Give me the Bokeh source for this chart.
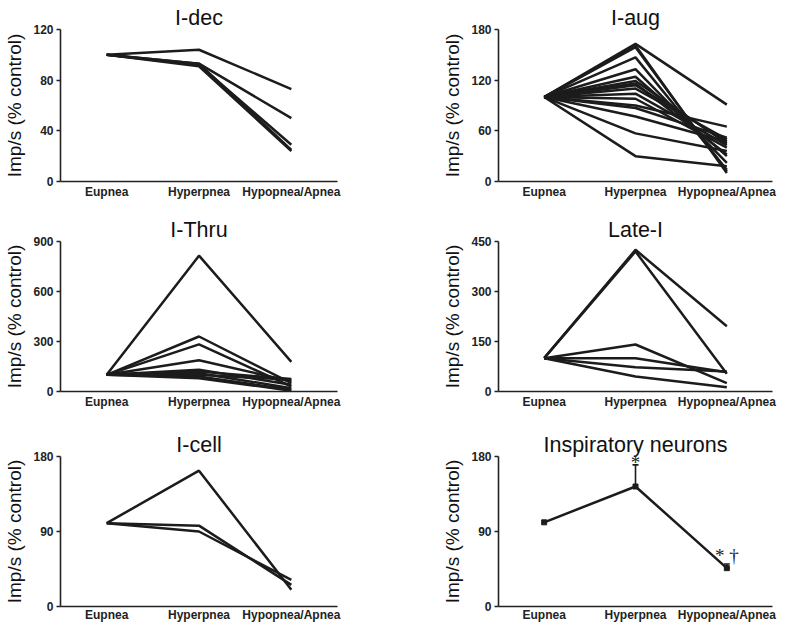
from bokeh.plotting import figure
from bokeh.layouts import column, row
from bokeh.models import Range1d, FixedTicker, ColumnDataSource, Whisker, TeeHead, LabelSet
from bokeh.embed import file_html
from bokeh.resources import INLINE

categories = ["Eupnea", "Hyperpnea", "Hypopnea/Apnea"]

# I-dec units (% control)
idec_eup = [100, 100, 100, 100, 100]
idec_hyp = [104, 93, 92, 93, 91]
idec_apn = [73, 50, 29, 25, 24]

# I-aug units
iaug_eup = [100] * 17
iaug_hyp = [163, 161, 159, 147, 133, 124, 119, 116, 114, 110, 104, 98, 90, 87, 77, 57, 30]
iaug_apn = [91, 10, 12, 14, 22, 30, 45, 32, 48, 50, 43, 40, 65, 52, 47, 36, 18]

# I-Thru units
ithru_eup = [100] * 10
ithru_hyp = [815, 330, 283, 188, 130, 120, 110, 100, 90, 80]
ithru_apn = [178, 50, 30, 60, 40, 75, 20, 70, 10, 5]

# Late-I units
latei_eup = [100] * 6
latei_hyp = [425, 420, 141, 100, 73, 45]
latei_apn = [196, 53, 25, 58, 60, 13]

# I-cell units
icell_eup = [100, 100, 100]
icell_hyp = [163, 97, 90]
icell_apn = [20, 26, 32]

# Inspiratory neurons (mean and upper error)
insp_mean = [101, 144, 46]
insp_err_cats = ["Hyperpnea", "Hypopnea/Apnea"]
insp_err_mean = [144, 46]
insp_err_upper = [170, 51]
insp_sig_text = ["*", "* \u2020"]
insp_sig_y = [165.5, 54]

FONT = "Liberation Sans"
LINE = "#1c1c1c"


def make_fig(title, ymax, ticks, w, h, bl, br, bt, bb, xstand=3):
    p = figure(x_range=categories, y_range=Range1d(0, ymax), width=w, height=h,
               output_backend="svg", toolbar_location=None, title=title,
               min_border_left=bl, min_border_right=br, min_border_top=bt, min_border_bottom=bb)
    p.x_range.range_padding = 0
    p.title.text_font = FONT
    p.title.text_font_size = "21.5px"
    p.title.text_font_style = "normal"
    p.title.text_color = "#111111"
    p.title.align = "center"
    p.title.standoff = 0
    p.title.offset = 0
    p.xgrid.visible = False
    p.ygrid.visible = False
    p.outline_line_color = None
    p.yaxis.ticker = FixedTicker(ticks=ticks)
    for ax in (p.xaxis, p.yaxis):
        ax.axis_line_width = 1.6
        ax.axis_line_color = "#222222"
        ax.major_label_text_font = FONT
        ax.major_label_text_font_size = "12px"
        ax.major_label_text_font_style = "bold"
        ax.major_label_text_color = "#222222"
        ax.minor_tick_line_color = None
        ax.major_tick_line_color = "#222222"
        ax.major_tick_line_width = 1.4
        ax.major_tick_in = 0
    p.xaxis.major_tick_out = 0
    p.xaxis.major_label_standoff = xstand
    p.xaxis.major_label_orientation = "horizontal"
    p.xaxis.axis_label = None
    p.xaxis.axis_label_standoff = 0
    p.yaxis.major_tick_out = 4
    p.yaxis.major_label_standoff = 3
    p.yaxis.axis_label = "Imp/s (% control)"
    p.yaxis.axis_label_text_font = FONT
    p.yaxis.axis_label_text_font_size = "19px"
    p.yaxis.axis_label_text_font_style = "normal"
    p.yaxis.axis_label_text_color = "#111111"
    p.yaxis.axis_label_standoff = 5
    return p


def add_units(p, eup, hyp, apn):
    xs = [categories for _ in eup]
    ys = [[a, b, c] for a, b, c in zip(eup, hyp, apn)]
    p.multi_line(xs=xs, ys=ys, line_color=LINE, line_width=2.5)


LW, RW = 392, 392
LB_L, LB_R = 60, 55
RB_L, RB_R = 106, 12

p1 = make_fig("I-dec", 120, [0, 40, 80, 120], LW, 202, LB_L, LB_R, 29, 21)
add_units(p1, idec_eup, idec_hyp, idec_apn)
p2 = make_fig("I-aug", 180, [0, 60, 120, 180], RW, 202, RB_L, RB_R, 29, 21)
add_units(p2, iaug_eup, iaug_hyp, iaug_apn)

p3 = make_fig("I-Thru", 900, [0, 300, 600, 900], LW, 210, LB_L, LB_R, 36, 21)
add_units(p3, ithru_eup, ithru_hyp, ithru_apn)
p4 = make_fig("Late-I", 450, [0, 150, 300, 450], RW, 210, RB_L, RB_R, 39, 21)
add_units(p4, latei_eup, latei_hyp, latei_apn)

p5 = make_fig("I-cell", 180, [0, 90, 180], LW, 212, LB_L, LB_R, 44, 16, xstand=1)
add_units(p5, icell_eup, icell_hyp, icell_apn)
p6 = make_fig("Inspiratory neurons", 180, [0, 90, 180], RW, 212, RB_L, RB_R, 42, 16, xstand=1)
p6.line(x=categories, y=insp_mean, line_color=LINE, line_width=2.5)
p6.scatter(x=categories, y=insp_mean, marker="square", size=5, fill_color=LINE, line_color=LINE)
err_src = ColumnDataSource(dict(x=insp_err_cats, lower=insp_err_mean, upper=insp_err_upper))
p6.add_layout(Whisker(source=err_src, base="x", lower="lower", upper="upper",
                      line_color=LINE, line_width=1.6,
                      upper_head=TeeHead(size=6, line_color=LINE, line_width=1.6),
                      lower_head=None))
sig_src = ColumnDataSource(dict(x=insp_err_cats, y=insp_sig_y, t=insp_sig_text))
p6.add_layout(LabelSet(source=sig_src, x="x", y="y", text="t", text_font=FONT,
                       text_font_size="19px", text_align="center", text_baseline="alphabetic",
                       text_color=LINE))

layout = column(row(p1, p2), row(p3, p4), row(p5, p6))
open("out.html", "w").write(file_html(layout, INLINE))
